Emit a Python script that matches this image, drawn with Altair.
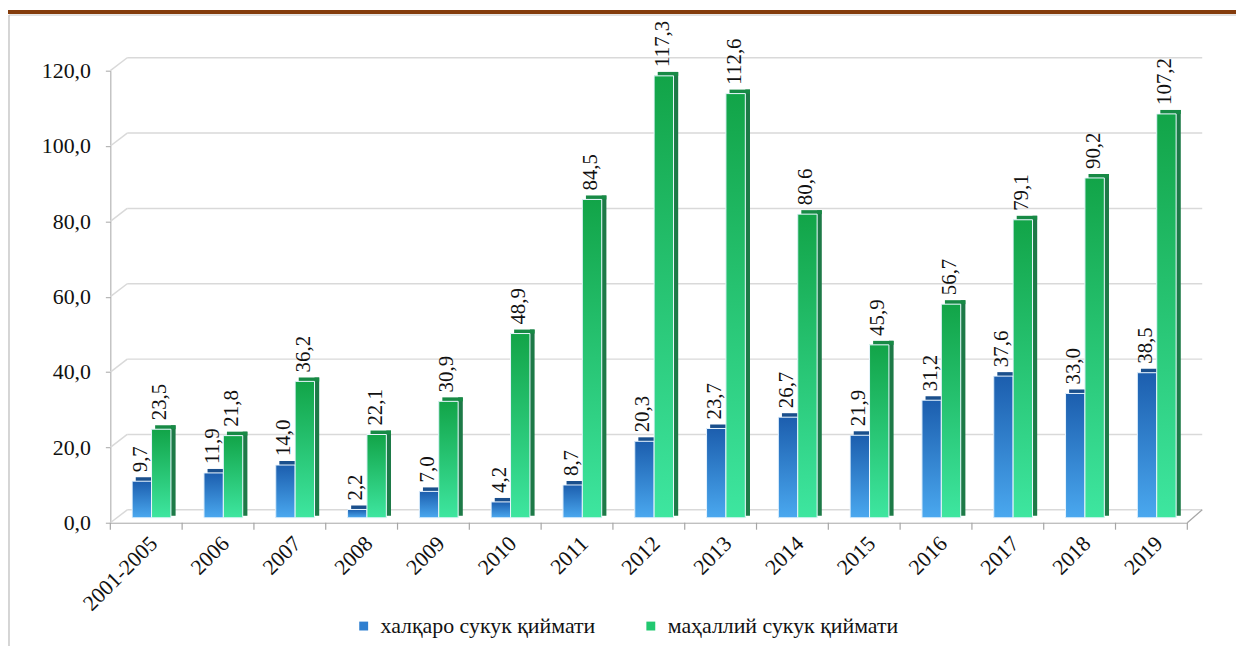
import altair as alt
import pandas as pd

categories = ["2001-2005", "2006", "2007", "2008", "2009", "2010", "2011", "2012",
              "2013", "2014", "2015", "2016", "2017", "2018", "2019"]
international = [9.7, 11.9, 14.0, 2.2, 7.0, 4.2, 8.7, 20.3, 23.7, 26.7, 21.9, 31.2, 37.6, 33.0, 38.5]
local = [23.5, 21.8, 36.2, 22.1, 30.9, 48.9, 84.5, 117.3, 112.6, 80.6, 45.9, 56.7, 79.1, 90.2, 107.2]
series_names = ["халқаро сукук қиймати", "маҳаллий сукук қиймати"]
y_ticks = [0, 20, 40, 60, 80, 100, 120]

rows = []
for i, (c, a, b) in enumerate(zip(categories, international, local)):
    rows.append({"i": i, "cat": c, "s": 0, "series": series_names[0], "v": a})
    rows.append({"i": i, "cat": c, "s": 1, "series": series_names[1], "v": b})
df = pd.DataFrame(rows)
grid_df = pd.DataFrame({"t": y_ticks})
bound_df = pd.DataFrame({"b": list(range(len(categories) + 1))})

W, H = 1084, 455
N = len(categories)
DX, DY = 17, -13
FONT = "Liberation Serif"
AX = "#a6a6a6"
GRID = "#d9d9d9"

# layout (in category units) of the two bars inside each category slot
LEFT, BWU, SIDEU = 0.304, 0.27, 0.065

yscale = alt.Scale(domain=[0, 120], nice=False, zero=True)
xscale = alt.Scale(domain=[0, N], nice=False, zero=False)
cat_js = "[" + ",".join("'" + c + "'" for c in categories) + "]"

x_axis = alt.Axis(title=None, values=[k + 0.5 for k in range(N)], labelAngle=-45,
                  labelAlign="right", labelBaseline="top",
                  ticks=False, grid=False, domainColor=AX, labelFont=FONT,
                  labelFontSize=22, labelColor="#111", labelPadding=10,
                  labelExpr=cat_js + "[floor(datum.value)]", labelOverlap=False)
y_axis = alt.Axis(title=None, values=y_ticks, grid=False, domainColor=AX,
                  tickColor=AX, tickSize=5, labelFont=FONT, labelFontSize=22,
                  labelColor="#111", labelPadding=15,
                  labelExpr="replace(format(datum.value, '.1f'), '.', ',')")

# back wall gridlines
back = alt.Chart(grid_df).mark_rule(color=GRID, strokeWidth=1.5, yOffset=DY).encode(
    y=alt.Y("t:Q", scale=yscale), x=alt.value(DX), x2=alt.value(W + 15))
diag = alt.Chart(grid_df).mark_rule(color=GRID, strokeWidth=1.5, y2Offset=DY).encode(
    y=alt.Y("t:Q", scale=yscale), y2="t:Q", x=alt.value(0), x2=alt.value(DX))
floor_right = alt.Chart(grid_df).transform_filter("datum.t == 0").mark_rule(
    color=AX, strokeWidth=1.2, y2Offset=DY).encode(
    y=alt.Y("t:Q", scale=yscale), y2="t:Q", x=alt.value(W), x2=alt.value(W + 15))

xticks = alt.Chart(bound_df).mark_rule(color=AX, strokeWidth=1.2).encode(
    x=alt.X("b:Q", scale=xscale, axis=x_axis), y=alt.value(H), y2=alt.value(H + 7))

SY = -5

def faces(d):
    return d.transform_calculate(
        x0=f"datum.i + {LEFT} + datum.s * {BWU}",
        x1=f"datum.i + {LEFT} + (datum.s + 1) * {BWU}",
        xs0=f"datum.i + {LEFT} + (datum.s + 1) * {BWU}",
        xs1=f"datum.i + {LEFT} + (datum.s + 1) * {BWU} + {SIDEU}",
        xt0=f"datum.i + {LEFT} + datum.s * {BWU} + 0.05",
        xt1=f"datum.i + {LEFT} + (datum.s + 1) * {BWU} + {SIDEU}",
        xc=f"datum.i + {LEFT} + (datum.s + 0.5) * {BWU}",
    )

base_bars = faces(alt.Chart(df)).mark_rect(yOffset=SY, y2Offset=SY).encode(
    x=alt.X("x0:Q", scale=xscale, axis=x_axis), x2="x1:Q",
    y=alt.Y("v:Q", scale=yscale, axis=y_axis), y2=alt.datum(0),
    color=alt.Color("series:N", sort=series_names,
                    scale=alt.Scale(domain=series_names, range=["#2f7fd0", "#22c870"]),
                    legend=alt.Legend(title=None, orient="none", legendX=244, legendY=548,
                                      direction="horizontal", symbolType="square",
                                      symbolSize=80, symbolStrokeWidth=0,
                                      labelFont=FONT, labelFontSize=22, labelColor="#111",
                                      labelLimit=0, columnPadding=44, labelOffset=6)))

blue_grad = alt.Gradient(gradient="linear", x1=0, y1=0, x2=0, y2=1,
                         stops=[alt.GradientStop(color="#1c5eae", offset=0),
                                alt.GradientStop(color="#4aa8ef", offset=1)])
green_grad = alt.Gradient(gradient="linear", x1=0, y1=0, x2=0, y2=1,
                          stops=[alt.GradientStop(color="#12a448", offset=0),
                                 alt.GradientStop(color="#3ee6a0", offset=1)])

def series_layers(k, grad, side_col, top_col):
    d = faces(alt.Chart(df).transform_filter(f"datum.s == {k}"))
    side = d.mark_rect(yOffset=SY - 4, y2Offset=SY - 2, color=side_col).encode(
        x=alt.X("xs0:Q", scale=xscale), x2="xs1:Q",
        y=alt.Y("v:Q", scale=yscale), y2=alt.datum(0))
    top = d.mark_rect(yOffset=SY - 4, y2Offset=SY, color=top_col).encode(
        x=alt.X("xt0:Q", scale=xscale), x2="xt1:Q",
        y=alt.Y("v:Q", scale=yscale), y2="v:Q")
    front = d.mark_rect(yOffset=SY, y2Offset=SY, fill=grad,
                        stroke="#eaf6ff", strokeWidth=1).encode(
        x=alt.X("x0:Q", scale=xscale), x2="x1:Q",
        y=alt.Y("v:Q", scale=yscale), y2=alt.datum(0))
    return [side, top, front]

labels = faces(alt.Chart(df)).transform_calculate(
    lbl="replace(format(datum.v, '.1f'), '.', ',')"
).mark_text(angle=270, align="left", baseline="middle", font=FONT, fontSize=21,
            color="#111", xOffset=-1, yOffset=SY - 9).encode(
    x=alt.X("xc:Q", scale=xscale), y=alt.Y("v:Q", scale=yscale), text="lbl:N")

# page decorations: brown band and frame
one = grid_df.iloc[:1]
band = alt.Chart(one).mark_rule(color="#843c0c", strokeWidth=4).encode(
    x=alt.value(-120), x2=alt.value(W + 60), y=alt.value(-59))
frame_top = alt.Chart(one).mark_rule(color="#c8c8c8", strokeWidth=1).encode(
    x=alt.value(-102), x2=alt.value(W + 60), y=alt.value(-56))
frame_left = alt.Chart(one).mark_rule(color="#c8c8c8", strokeWidth=1.5).encode(
    x=alt.value(-102), y=alt.value(-56), y2=alt.value(H + 130))

layers = [band, frame_top, frame_left, back, diag, floor_right, xticks, base_bars]
layers += series_layers(0, blue_grad, "#174a86", "#1a4f8c")
layers += series_layers(1, green_grad, "#1d7a47", "#178a45")
layers += [labels]

chart = alt.layer(*layers).properties(
    width=W, height=H,
    padding={"left": 103, "top": 61, "right": 49, "bottom": 122},
    autosize=alt.AutoSizeParams(type="none"),
    background="white",
).configure_view(stroke=None)

chart.save("out.html", embed_options={"renderer": "svg", "actions": False})
